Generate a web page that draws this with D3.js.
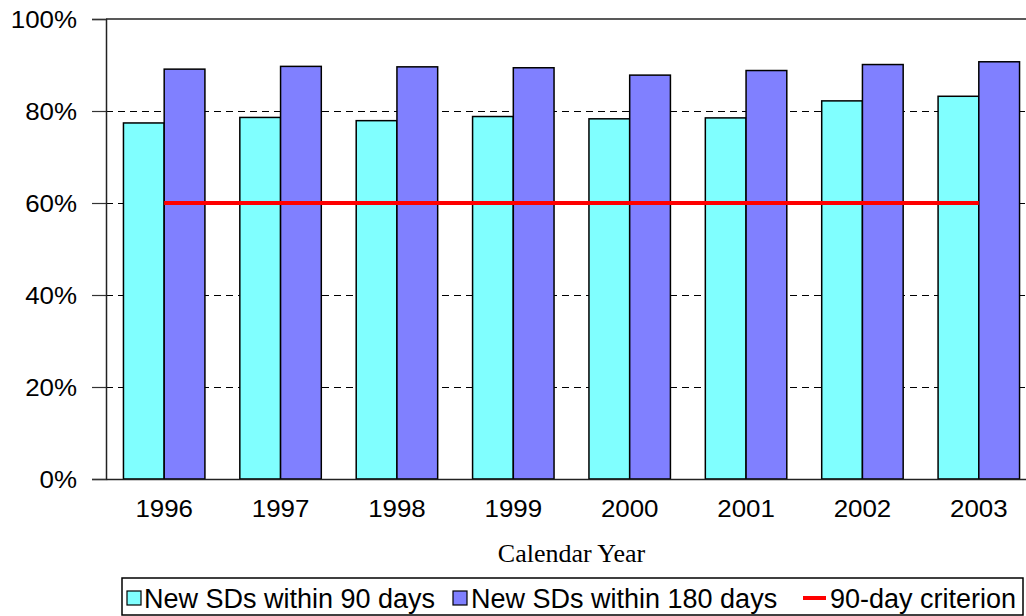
<!DOCTYPE html>
<html>
<head>
<meta charset="utf-8">
<script src="https://cdn.jsdelivr.net/npm/d3@7"></script>
<style>
  html, body { margin: 0; padding: 0; background: #fff; }
  svg { display: block; }
</style>
</head>
<body>
<svg id="chart" width="1026" height="616"></svg>
<script>
// ---- data ----
const years = ["1996", "1997", "1998", "1999", "2000", "2001", "2002", "2003"];
const within90 = [77.4, 78.6, 77.9, 78.8, 78.3, 78.5, 82.2, 83.2];
const within180 = [89.1, 89.7, 89.6, 89.4, 87.8, 88.8, 90.1, 90.7];
const criterion = [60, 60, 60, 60, 60, 60, 60, 60];
const yTicks = [0, 20, 40, 60, 80, 100];
const seriesNames = ["New SDs within 90 days", "New SDs within 180 days", "90-day criterion"];
const xTitle = "Calendar Year";

// ---- layout ----
const svg = d3.select("#chart");
const plot = { left: 106, right: 1037, top: 19, bottom: 479 };
const colors = { c90: "#80FFFF", c180: "#8080FF", crit: "#FF0000" };
const sansFont = "'Liberation Sans', Arial, sans-serif";

const x0 = d3.scaleBand().domain(years).range([plot.left, plot.right])
  .paddingInner(0.3).paddingOuter(0.15);
const x1 = d3.scaleBand().domain(["a", "b"]).range([0, x0.bandwidth()]).padding(0);
const y = d3.scaleLinear().domain([0, 100]).range([plot.bottom, plot.top]);

// gridlines (dashed)
svg.append("g").selectAll("line")
  .data(yTicks.filter(v => v > 0 && v < 100))
  .join("line")
  .attr("x1", plot.left).attr("x2", plot.right)
  .attr("y1", d => Math.round(y(d)) + 0.5).attr("y2", d => Math.round(y(d)) + 0.5)
  .attr("stroke", "#000").attr("stroke-width", 1)
  .attr("shape-rendering", "crispEdges")
  .attr("stroke-dasharray", "7,5");

// top border
svg.append("line")
  .attr("x1", plot.left).attr("x2", plot.right)
  .attr("y1", y(100)).attr("y2", y(100))
  .attr("stroke", "#222").attr("stroke-width", 1.5);

// bars
const rows = years.map((yr, i) => ({ yr, a: within90[i], b: within180[i] }));
const groups = svg.append("g").selectAll("g").data(rows).join("g")
  .attr("transform", d => `translate(${x0(d.yr)},0)`);
groups.selectAll("rect")
  .data(d => [{ k: "a", v: d.a }, { k: "b", v: d.b }])
  .join("rect")
  .attr("x", d => x1(d.k))
  .attr("y", d => y(d.v))
  .attr("width", x1.bandwidth())
  .attr("height", d => y(0) - y(d.v))
  .attr("fill", d => d.k === "a" ? colors.c90 : colors.c180)
  .attr("stroke", "#000").attr("stroke-width", 1.5);

// criterion line
const line = d3.line()
  .x((d, i) => x0(years[i]) + x0.bandwidth() / 2)
  .y(d => y(d));
svg.append("path").datum(criterion)
  .attr("d", line).attr("fill", "none")
  .attr("stroke", colors.crit).attr("stroke-width", 4);

// y axis
const yAxis = svg.append("g")
  .attr("transform", `translate(${plot.left},0)`)
  .call(d3.axisLeft(y).tickValues(yTicks).tickFormat(d => d + "%")
    .tickSize(14).tickPadding(15));
yAxis.select(".domain").attr("stroke", "#222").attr("stroke-width", 1.5);
yAxis.selectAll(".tick line").attr("stroke", "#333").attr("stroke-width", 1.2);
yAxis.selectAll("text")
  .attr("font-family", sansFont).attr("font-size", 24).attr("fill", "#000")
  .attr("x", -29 / 1.08).attr("dy", "0.36em")
  .attr("transform", "scale(1.08,1)");

// x axis
const xAxis = svg.append("g")
  .attr("transform", `translate(0,${plot.bottom})`)
  .call(d3.axisBottom(x0).tickSize(0).tickPadding(21));
xAxis.select(".domain").attr("stroke", "#222").attr("stroke-width", 1.5);
xAxis.selectAll("text")
  .attr("font-family", sansFont).attr("font-size", 24).attr("fill", "#000")
  .attr("x", 0)
  .attr("transform", "scale(1.08,1)");

// x title
svg.append("text")
  .attr("x", (plot.left + plot.right) / 2).attr("y", 562)
  .attr("text-anchor", "middle")
  .attr("font-family", "'Liberation Serif', 'Times New Roman', serif")
  .attr("font-size", 26).attr("fill", "#000")
  .text(xTitle);

// legend
const leg = svg.append("g");
leg.append("rect").attr("x", 122).attr("y", 578).attr("width", 901).attr("height", 37)
  .attr("fill", "#fff").attr("stroke", "#000").attr("stroke-width", 1.5);
const legItems = [
  { type: "rect", color: colors.c90, sx: 127, tx: 144, label: seriesNames[0] },
  { type: "rect", color: colors.c180, sx: 453, tx: 471, label: seriesNames[1] },
  { type: "line", color: colors.crit, sx: 803, tx: 830, label: seriesNames[2] }
];
legItems.forEach(it => {
  if (it.type === "rect") {
    leg.append("rect").attr("x", it.sx).attr("y", 591).attr("width", 14).attr("height", 14)
      .attr("fill", it.color).attr("stroke", "#000").attr("stroke-width", 1.2);
  } else {
    leg.append("line").attr("x1", it.sx).attr("x2", it.sx + 23)
      .attr("y1", 598).attr("y2", 598)
      .attr("stroke", it.color).attr("stroke-width", 4);
  }
  leg.append("text").attr("x", it.tx).attr("y", 608)
    .attr("font-family", sansFont).attr("font-size", 27).attr("fill", "#000")
    .text(it.label);
});
</script>
</body>
</html>
